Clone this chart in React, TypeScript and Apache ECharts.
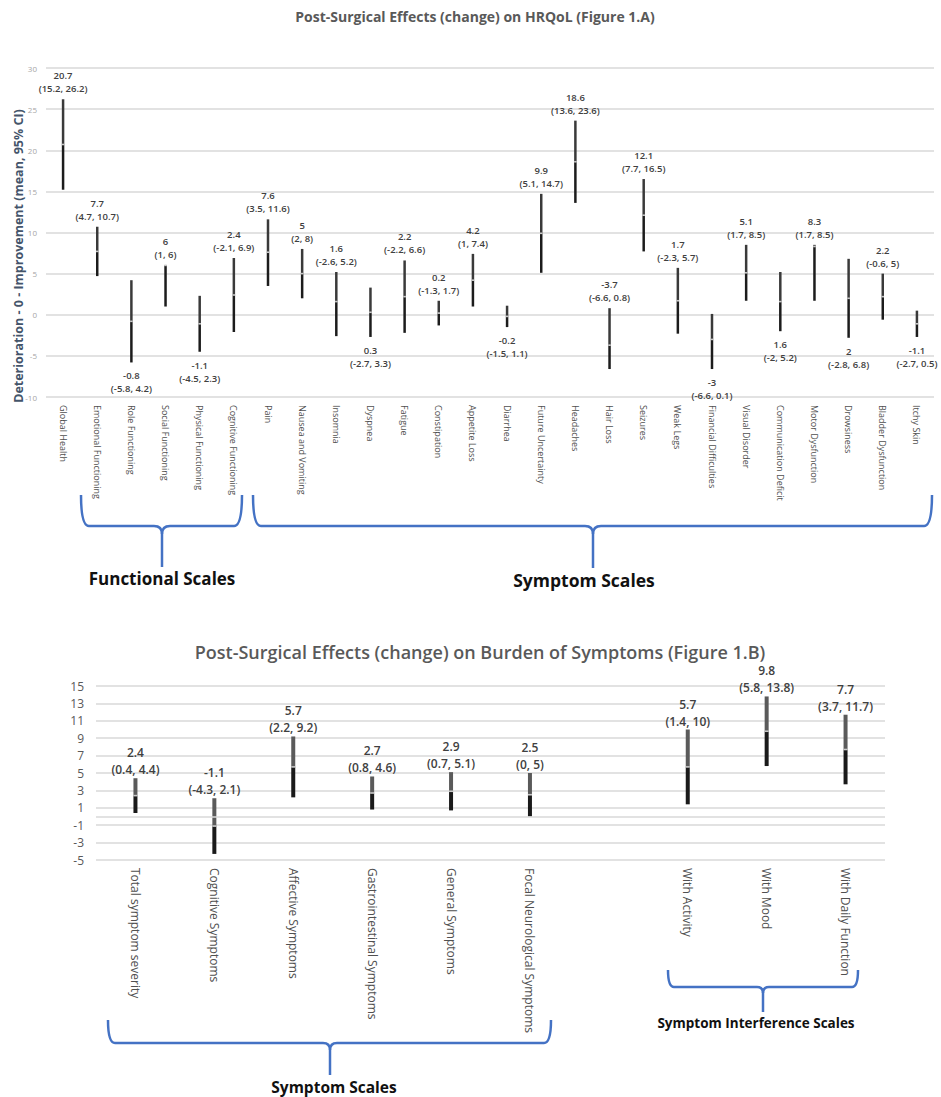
import React, { useEffect, useRef } from "react";
import * as echarts from "echarts";

// ---------- Figure 1.A data ----------
const hrqolCategories = [
  "Global Health", "Emotional Functioning", "Role Functioning", "Social Functioning",
  "Physical Functioning", "Cognitive Functioning", "Pain", "Nausea and Vomiting",
  "Insomnia", "Dyspnea", "Fatigue", "Constipation", "Appetite Loss", "Diarrhea",
  "Future Uncertainty", "Headaches", "Hair Loss", "Seizures", "Weak Legs",
  "Financial Difficulties", "Visual Disorder", "Communication Deficit",
  "Motor Dysfunction", "Drowsiness", "Bladder Dysfunction", "Itchy Skin",
];
const hrqolMean = [20.7, 7.7, -0.8, 6, -1.1, 2.4, 7.6, 5, 1.6, 0.3, 2.2, 0.2, 4.2, -0.2, 9.9, 18.6, -3.7, 12.1, 1.7, -3, 5.1, 1.6, 8.3, 2, 2.2, -1.1];
const hrqolLower = [15.2, 4.7, -5.8, 1, -4.5, -2.1, 3.5, 2, -2.6, -2.7, -2.2, -1.3, 1, -1.5, 5.1, 13.6, -6.6, 7.7, -2.3, -6.6, 1.7, -2, 1.7, -2.8, -0.6, -2.7];
const hrqolUpper = [26.2, 10.7, 4.2, 6, 2.3, 6.9, 11.6, 8, 5.2, 3.3, 6.6, 1.7, 7.4, 1.1, 14.7, 23.6, 0.8, 16.5, 5.7, 0.1, 8.5, 5.2, 8.5, 6.8, 5, 0.5];
// categories whose label sits under the bar (layout choice of the original)
const hrqolLabelBelow = [
  "Role Functioning", "Physical Functioning", "Dyspnea", "Diarrhea",
  "Financial Difficulties", "Communication Deficit", "Drowsiness", "Itchy Skin",
];

// ---------- Figure 1.B data ----------
const burdenCategories = [
  "Total symptom severity", "Cognitive Symptoms", "Affective Symptoms",
  "Gastrointestinal Symptoms", "General Symptoms", "Focal Neurological Symptoms",
  "", "With Activity", "With Mood", "With Daily Function",
];
const burdenMean = [2.4, -1.1, 5.7, 2.7, 2.9, 2.5, null, 5.7, 9.8, 7.7];
const burdenLower = [0.4, -4.3, 2.2, 0.8, 0.7, 0, null, 1.4, 5.8, 3.7];
const burdenUpper = [4.4, 2.1, 9.2, 4.6, 5.1, 5, null, 10, 13.8, 11.7];
const burdenAxisMin = -5;
const burdenAxisMax = 15;
const burdenInterval = 2;

const FONT = "'Open Sans', 'Noto Sans', sans-serif";

type BarCfg = {
  width: number; upper: string; lower: string; mark: string;
  fontSize: number; lineHeight: number; gapAbove: number; gapBelow: number;
  fontWeight: number | string; color: string;
};

function makeRender(cfg: BarCfg, lows: any[], means: any[], highs: any[], below: boolean[]) {
  return (params: any, api: any) => {
    const i = params.dataIndex;
    const x = api.value(0);
    const pLo = api.coord([x, api.value(1)]);
    const pMid = api.coord([x, api.value(2)]);
    const pHi = api.coord([x, api.value(3)]);
    const b = below[i];
    return {
      type: "group",
      children: [
        { type: "line", shape: { x1: pHi[0], y1: pHi[1], x2: pMid[0], y2: pMid[1] }, style: { stroke: cfg.upper, lineWidth: cfg.width } },
        { type: "line", shape: { x1: pMid[0], y1: pMid[1], x2: pLo[0], y2: pLo[1] }, style: { stroke: cfg.lower, lineWidth: cfg.width } },
        { type: "line", shape: { x1: pMid[0], y1: pMid[1] - 0.8, x2: pMid[0], y2: pMid[1] + 0.8 }, style: { stroke: cfg.mark, lineWidth: cfg.width } },
        {
          type: "text",
          x: pHi[0],
          y: b ? pLo[1] + cfg.gapBelow : pHi[1] - cfg.gapAbove,
          style: {
            text: `${means[i]}\n(${lows[i]}, ${highs[i]})`,
            align: "center",
            verticalAlign: b ? "top" : "bottom",
            fontSize: cfg.fontSize,
            lineHeight: cfg.lineHeight,
            fontFamily: FONT,
            fontWeight: cfg.fontWeight,
            fill: cfg.color,
          },
        },
      ],
    };
  };
}

const BRACE = "#4472c4";
function brace(x1: number, x2: number, top: number, bottom: number, mid: number, stemBottom: number, r: number) {
  const st = { stroke: BRACE, lineWidth: 2.5, fill: "none" };
  return [
    { type: "bezierCurve", shape: { x1: x1, y1: top, x2: x1 + r, y2: bottom, cpx1: x1, cpy1: bottom }, style: st },
    { type: "line", shape: { x1: x1 + r, y1: bottom, x2: mid - r, y2: bottom }, style: st },
    { type: "bezierCurve", shape: { x1: mid - r, y1: bottom, x2: mid, y2: bottom + r, cpx1: mid, cpy1: bottom }, style: st },
    { type: "bezierCurve", shape: { x1: mid + r, y1: bottom, x2: mid, y2: bottom + r, cpx1: mid, cpy1: bottom }, style: st },
    { type: "line", shape: { x1: mid + r, y1: bottom, x2: x2 - r, y2: bottom }, style: st },
    { type: "bezierCurve", shape: { x1: x2 - r, y1: bottom, x2: x2, y2: top, cpx1: x2, cpy1: bottom }, style: st },
    { type: "line", shape: { x1: mid, y1: bottom + r, x2: mid, y2: stemBottom }, style: st },
  ];
}

export default function App() {
  const ref = useRef<HTMLDivElement>(null);
  useEffect(() => {
    if (!ref.current) return;
    const chart = echarts.init(ref.current, null, { renderer: "svg" });

    const aData = hrqolCategories.map((_, i) => [i, hrqolLower[i], hrqolMean[i], hrqolUpper[i]]);
    const aBelow = hrqolCategories.map((c) => hrqolLabelBelow.includes(c));

    const bIdx: number[] = [];
    burdenCategories.forEach((_, i) => { if (burdenMean[i] !== null) bIdx.push(i); });
    const bData = bIdx.map((i) => [i, (burdenLower[i] as number) - burdenAxisMin, (burdenMean[i] as number) - burdenAxisMin, (burdenUpper[i] as number) - burdenAxisMin]);
    const bLows = bIdx.map((i) => burdenLower[i]);
    const bMeans = bIdx.map((i) => burdenMean[i]);
    const bHighs = bIdx.map((i) => burdenUpper[i]);

    const cfgA: BarCfg = { width: 2.5, upper: "#3a3a3a", lower: "#1c1c1c", mark: "#c8c8c8", fontSize: 9.5, lineHeight: 13, gapAbove: 4, gapBelow: 7, fontWeight: 600, color: "#404040" };
    const cfgB: BarCfg = { width: 4, upper: "#5a5a5a", lower: "#1a1a1a", mark: "#c8c8c8", fontSize: 12, lineHeight: 17, gapAbove: 0, gapBelow: 4, fontWeight: 600, color: "#404040" };

    const grid = "#d9d9d9";

    chart.setOption({
      animation: false,
      backgroundColor: "#ffffff",
      grid: [
        { left: 46, top: 68, width: 888, height: 329 },
        { left: 96, top: 686, width: 789, height: 174 },
      ],
      xAxis: [
        {
          gridIndex: 0, type: "category", data: hrqolCategories, boundaryGap: true,
          axisLine: { show: false }, axisTick: { show: false },
          axisLabel: { rotate: -90, interval: 0, margin: 8, fontSize: 9, color: "#505050", fontFamily: FONT },
        },
        {
          gridIndex: 1, type: "category", data: burdenCategories, boundaryGap: true,
          axisLine: { show: false }, axisTick: { show: false },
          axisLabel: { rotate: -90, interval: 0, margin: 8, fontSize: 12, color: "#505050", fontFamily: FONT },
        },
      ],
      yAxis: [
        {
          gridIndex: 0, type: "value", min: -10, max: 30, interval: 5,
          axisLine: { show: false }, axisTick: { show: false },
          axisLabel: { fontSize: 8, color: "#a6a6a6", margin: 9, fontFamily: FONT },
          splitLine: { lineStyle: { color: grid, width: 1.5 } },
        },
        {
          gridIndex: 1, type: "value", min: 0, max: burdenAxisMax - burdenAxisMin, interval: burdenInterval,
          axisLine: { show: false }, axisTick: { show: false },
          axisLabel: { fontSize: 12, color: "#595959", margin: 12, fontFamily: FONT, formatter: (v: number) => String(v + burdenAxisMin) },
          splitLine: { lineStyle: { color: grid, width: 1.5 } },
        },
      ],
      series: [
        {
          type: "custom", xAxisIndex: 0, yAxisIndex: 0, data: aData,
          encode: { x: 0, y: [1, 2, 3] },
          renderItem: makeRender(cfgA, hrqolLower, hrqolMean, hrqolUpper, aBelow),
        },
        {
          type: "custom", xAxisIndex: 1, yAxisIndex: 1, data: bData,
          encode: { x: 0, y: [1, 2, 3] },
          renderItem: makeRender(cfgB, bLows, bMeans, bHighs, bIdx.map(() => false)),
          markLine: {
            silent: true, symbol: "none", label: { show: false },
            lineStyle: { color: grid, width: 1.5, type: "solid" },
            data: [{ yAxis: 0 - burdenAxisMin }],
          },
        },
      ],
      graphic: [
        { type: "text", x: 475, y: 16, style: { text: "Post-Surgical Effects (change) on HRQoL (Figure 1.A)", align: "center", verticalAlign: "middle", fontSize: 14, fontWeight: "bold", fill: "#595959", fontFamily: FONT } },
        { type: "text", x: 18, y: 256, rotation: Math.PI / 2, style: { text: "Deterioration - 0 - Improvement (mean, 95% CI)", align: "center", verticalAlign: "middle", fontSize: 12.5, fontWeight: "bold", fill: "#44546a", fontFamily: FONT } },
        { type: "text", x: 480, y: 652, style: { text: "Post-Surgical Effects (change) on Burden of Symptoms (Figure 1.B)", align: "center", verticalAlign: "middle", fontSize: 18, fontWeight: 600, fill: "#595959", fontFamily: FONT } },
        ...brace(81, 242, 495, 526, 162, 567, 8),
        { type: "text", x: 162, y: 578, style: { text: "Functional Scales", align: "center", verticalAlign: "middle", fontSize: 17, fontWeight: "bold", fill: "#111", fontFamily: FONT } },
        ...brace(253, 932, 495, 526, 593, 568, 8),
        { type: "text", x: 584, y: 580, style: { text: "Symptom Scales", align: "center", verticalAlign: "middle", fontSize: 17.5, fontWeight: "bold", fill: "#111", fontFamily: FONT } },
        ...brace(108, 551, 1020, 1043, 330, 1075, 7),
        { type: "text", x: 334, y: 1087, style: { text: "Symptom Scales", align: "center", verticalAlign: "middle", fontSize: 15.5, fontWeight: "bold", fill: "#111", fontFamily: FONT } },
        ...brace(668, 858, 970, 987, 763, 1012, 6),
        { type: "text", x: 756, y: 1023, style: { text: "Symptom Interference Scales", align: "center", verticalAlign: "middle", fontSize: 13.5, fontWeight: "bold", fill: "#111", fontFamily: FONT } },
      ],
    });
    return () => chart.dispose();
  }, []);

  return <div ref={ref} style={{ position: "absolute", left: 0, top: 0, width: 941, height: 1097, background: "#fff" }} />;
}
